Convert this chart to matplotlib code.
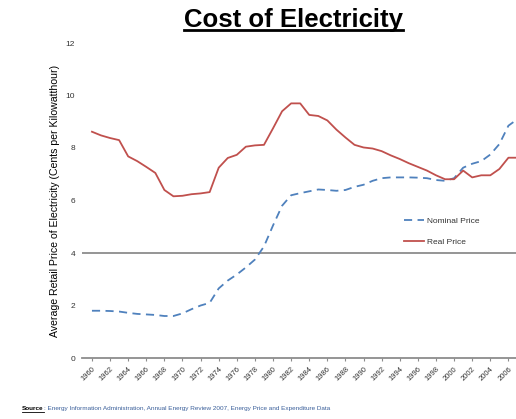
import numpy as np
import matplotlib.pyplot as plt
from matplotlib.lines import Line2D

plt.rcParams['font.family'] = ['Liberation Sans', 'DejaVu Sans']

# average retail price of electricity, cents per kWh
years = list(range(1960, 2008))
nominal_price = [1.80, 1.80, 1.79, 1.77, 1.72, 1.68, 1.66, 1.64, 1.60, 1.60,
                 1.70, 1.86, 2.00, 2.10, 2.65, 2.95, 3.18, 3.45, 3.75, 4.25,
                 5.05, 5.80, 6.20, 6.28, 6.35, 6.42, 6.40, 6.37, 6.40, 6.52,
                 6.60, 6.75, 6.85, 6.88, 6.88, 6.88, 6.87, 6.85, 6.78, 6.75,
                 6.85, 7.25, 7.40, 7.50, 7.75, 8.15, 8.85, 9.10]
real_price = [8.62, 8.48, 8.38, 8.30, 7.68, 7.50, 7.28, 7.05, 6.40, 6.16,
              6.18, 6.24, 6.27, 6.32, 7.25, 7.62, 7.74, 8.05, 8.10, 8.12,
              8.75, 9.40, 9.70, 9.70, 9.26, 9.22, 9.05, 8.70, 8.40, 8.12,
              8.02, 7.98, 7.88, 7.72, 7.58, 7.42, 7.28, 7.14, 6.96, 6.81,
              6.81, 7.14, 6.88, 6.96, 6.96, 7.20, 7.63, 7.63]
tick_years = list(range(1960, 2007, 2))

W, H = 516, 419
fig = plt.figure(figsize=(W / 100, H / 100), dpi=100)
# plot area runs off the right edge of the figure
ax = fig.add_axes([82 / W, (H - 358) / H, 440 / W, (358 - 43) / H])

ax.plot(years, nominal_price, color='#4F81BD', lw=1.3, dashes=(4.5, 3),
        label='Nominal Price')
ax.plot(years, real_price, color='#C0504D', lw=1.3, label='Real Price')
ax.axhline(4, color='#8C8C8C', lw=1.3, zorder=0)

ax.set_xlim(1958.9, 2007.5)
ax.set_ylim(0, 12)
ax.set_yticks(range(0, 13, 2))
ax.set_xticks(tick_years)
ax.set_xticklabels([str(y) for y in tick_years], rotation=45, ha='right',
                   va='top', rotation_mode='anchor', fontsize=5.5,
                   color='#333333')
ax.tick_params(axis='y', length=0, labelsize=6, colors='#333333', pad=5)
ax.tick_params(axis='x', length=2.5, color='#8C8C8C', pad=3)

for side in ['top', 'right', 'left']:
    ax.spines[side].set_visible(False)
ax.spines['bottom'].set_color('#8C8C8C')
ax.spines['bottom'].set_linewidth(1.3)

ax.set_ylabel('Average Retail Price of Electricity (Cents per Kilowatthour)',
              fontsize=7.6, labelpad=4)

ax.legend(loc='upper left', bbox_to_anchor=(0.715, 0.47), frameon=False,
          fontsize=6, handlelength=2.4, handletextpad=0.3, labelspacing=1.5,
          labelcolor='#333333')

title = fig.text(293 / W, 1 - 27 / H, 'Cost of Electricity', ha='center',
                 va='baseline', fontsize=18.5, fontweight='bold')
src = fig.text(22 / W, 1 - 410 / H, 'Source', fontsize=4.6, fontweight='bold',
               va='baseline')
fig.text(44 / W, 1 - 410 / H,
         ': Energy Information Administration, Annual Energy Review 2007, '
         'Energy Price and Expenditure Data',
         fontsize=4.6, color='#3a5f9a', va='baseline')

# underline the title and the source tag
fig.canvas.draw()
r = fig.canvas.get_renderer()
for t, off, lw in [(title, 3.5, 2.0), (src, 1.5, 0.6)]:
    bb = t.get_window_extent(r)
    yb = t.get_position()[1] - off / H
    fig.add_artist(Line2D([bb.x0 / W, bb.x1 / W], [yb, yb], color='black',
                          lw=lw, transform=fig.transFigure))

fig.savefig('out.png', dpi=100)
